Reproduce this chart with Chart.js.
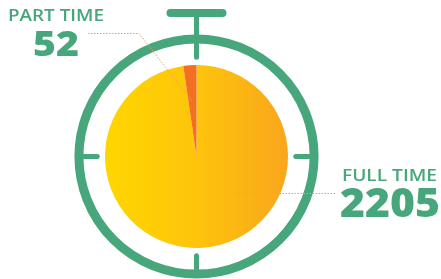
<!DOCTYPE html>
<html>
<head>
<meta charset="utf-8">
<script src="https://cdn.jsdelivr.net/npm/chart.js@4.4.0/dist/chart.umd.min.js"></script>
<style>
  html, body { margin: 0; padding: 0; background: #fff; }
  #wrap { width: 441px; height: 279px; position: relative; }
</style>
</head>
<body>
<div id="wrap"><canvas id="stopwatchChart"></canvas></div>
<script>
  const categories = ['FULL TIME', 'PART TIME'];
  const values = [2205, 52];

  const green = '#47a67c';
  const orange = '#f37022';

  function fullTimeFill(context) {
    const chart = context.chart;
    const area = chart.chartArea;
    if (!area) return '#fdc010';
    const g = chart.ctx.createLinearGradient(area.left, 0, area.right, 0);
    g.addColorStop(0, '#ffd600');
    g.addColorStop(0.5, '#fec40c');
    g.addColorStop(1, '#f9a61c');
    return g;
  }

  // draw text stretched to a given width (the original face is wide)
  function wideText(c, text, x, y, w, font) {
    c.save();
    c.font = font;
    const m = c.measureText(text).width;
    c.translate(x, y);
    c.scale(w / m, 1);
    c.fillText(text, 0, 0);
    c.restore();
  }

  // stopwatch ring, ticks and the top button, drawn behind the pie
  const stopwatch = {
    id: 'stopwatch',
    beforeDatasetsDraw(chart) {
      const arc = chart.getDatasetMeta(0).data[0];
      if (!arc) return;
      const c = chart.ctx;
      const x = arc.x, y = arc.y, r = arc.outerRadius;
      c.save();
      c.strokeStyle = green;
      c.lineWidth = 9;
      c.beginPath();
      c.arc(x, y, r * 1.285, 0, Math.PI * 2);
      c.stroke();
      // ticks
      c.lineWidth = 5;
      c.lineCap = 'round';
      const t0 = r * 1.085, t1 = r * 1.235;
      for (let i = 0; i < 4; i++) {
        const a = i * Math.PI / 2;
        c.beginPath();
        c.moveTo(x + Math.cos(a) * t0, y + Math.sin(a) * t0);
        c.lineTo(x + Math.cos(a) * t1, y + Math.sin(a) * t1);
        c.stroke();
      }
      // button stem and bar
      c.lineWidth = 5;
      c.beginPath();
      c.moveTo(x, y - r * 1.3);
      c.lineTo(x, 14);
      c.stroke();
      c.lineWidth = 8;
      c.beginPath();
      c.moveTo(x - 26, 13);
      c.lineTo(x + 26, 13);
      c.stroke();
      c.restore();
    },
    afterDraw(chart) {
      const meta = chart.getDatasetMeta(0);
      const arc = meta.data[0];
      const part = meta.data[1];
      if (!arc || !part) return;
      const c = chart.ctx;
      const x = arc.x, y = arc.y, r = arc.outerRadius;
      c.save();
      c.strokeStyle = '#f6a04a';
      c.lineWidth = 1;
      c.setLineDash([1.5, 1.5]);
      // part time leader
      const mid = (part.startAngle + part.endAngle) / 2;
      const px = x + Math.cos(mid) * r * 0.6;
      const py = y + Math.sin(mid) * r * 0.6;
      c.beginPath();
      c.moveTo(88, 33.5);
      c.lineTo(139, 33.5);
      c.lineTo(px, py);
      c.stroke();
      // full time leader
      c.beginPath();
      c.moveTo(x + 38, 193.5);
      c.lineTo(336, 193.5);
      c.stroke();
      c.setLineDash([]);

      c.fillStyle = green;
      c.textBaseline = 'alphabetic';
      c.textAlign = 'left';
      wideText(c, categories[1], 8, 21, 96, '600 16px "Open Sans"');
      wideText(c, String(values[1]), 33, 56, 46, '800 36px "Open Sans"');
      wideText(c, categories[0], 342, 181, 95, '600 17px "Open Sans"');
      wideText(c, String(values[0]), 340, 217, 100, '800 40px "Open Sans"');
      c.restore();
    }
  };

  const ctx = document.getElementById('stopwatchChart');
  const stopwatchChart = new Chart(ctx, {
    type: 'pie',
    data: {
      labels: categories,
      datasets: [{
        data: values,
        backgroundColor: (context) => context.dataIndex === 0 ? fullTimeFill(context) : orange,
        borderWidth: 0
      }]
    },
    options: {
      responsive: true,
      maintainAspectRatio: false,
      animation: false,
      layout: {
        padding: { left: 105, right: 153, top: 65, bottom: 31 }
      },
      plugins: {
        legend: { display: false },
        tooltip: { enabled: false }
      }
    },
    plugins: [stopwatch]
  });
</script>
</body>
</html>
